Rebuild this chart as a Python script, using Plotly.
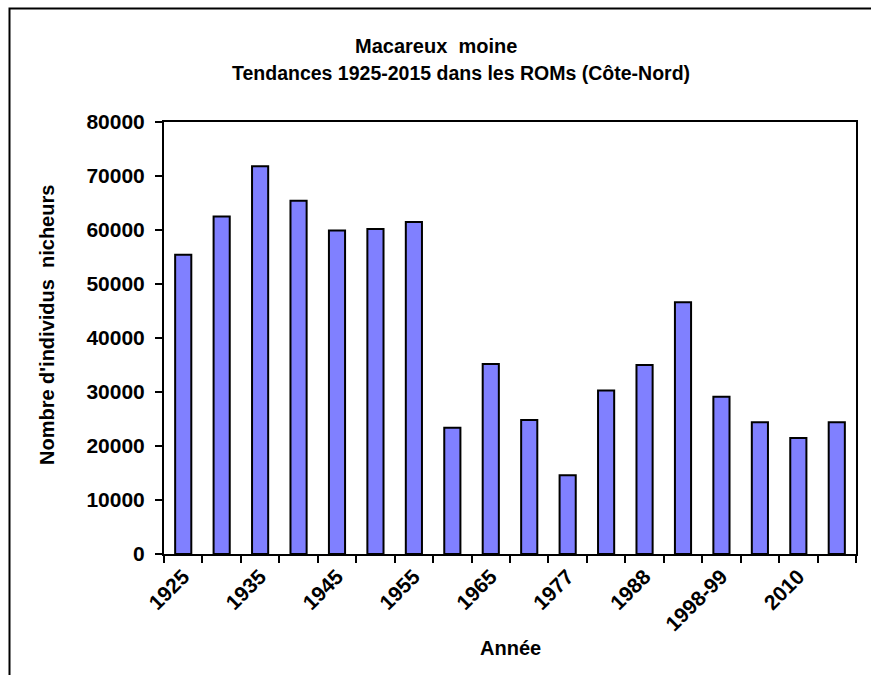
import plotly.graph_objects as go

# Survey years (only every other one is labelled on the axis)
years = ["1925", "1930", "1935", "1940", "1945", "1950", "1955", "1960", "1965",
         "1972", "1977", "1982", "1988", "1993", "1998-99", "2005", "2010", "2015"]
# Breeding individuals counted in the ROMs (Côte-Nord)
counts = [55400, 62500, 71800, 65400, 59900, 60200, 61500, 23400, 35200,
          24800, 14600, 30300, 35000, 46600, 29100, 24400, 21500, 24400]
# Axis labels shown under the bars
shown_years = ["1925", "1935", "1945", "1955", "1965", "1977", "1988", "1998-99", "2010"]
y_ticks = [0, 10000, 20000, 30000, 40000, 50000, 60000, 70000, 80000]

FONT = "Liberation Sans, Arial, sans-serif"
W, H = 871, 675
L, R, T, B = 164, 15, 122, 121
pw, ph = W - L - R, H - T - B
NB = "\u00a0"  # wide word spacing used in the titles


def px_x(x):
    return (x - L) / pw


def px_y(y):
    return (H - B - y) / ph


fig = go.Figure(
    go.Bar(
        x=years,
        y=counts,
        width=0.42,
        marker=dict(color="#8080FF", line=dict(color="black", width=2)),
        hoverinfo="x+y",
    )
)

fig.update_layout(
    width=W,
    height=H,
    margin=dict(l=L, r=R, t=T, b=B),
    paper_bgcolor="white",
    plot_bgcolor="white",
    showlegend=False,
    font=dict(family=FONT, color="black"),
)

fig.update_xaxes(
    type="category",
    categoryorder="array",
    categoryarray=years,
    tickson="boundaries",
    ticks="outside",
    ticklen=7,
    tickwidth=2,
    tickcolor="black",
    tickvals=years,
    ticktext=[y if y in shown_years else "" for y in years],
    tickangle=-45,
    tickfont=dict(family=FONT, size=21, weight="bold", color="black"),
    showline=True,
    linecolor="black",
    linewidth=2,
    mirror=True,
    showgrid=False,
    zeroline=False,
)

fig.update_yaxes(
    range=[0, 80000],
    tickvals=y_ticks,
    tickformat="d",
    ticks="outside",
    ticklen=7,
    tickwidth=2,
    tickcolor="black",
    tickfont=dict(family=FONT, size=21, weight="bold", color="black"),
    ticklabelstandoff=6,
    showline=True,
    linecolor="black",
    linewidth=2,
    mirror=True,
    showgrid=False,
    zeroline=False,
)

# Title (two lines), axis titles
annos = [
    dict(text="Macareux" + NB + " moine", x=px_x(436), y=px_y(46), size=20),
    dict(text="Tendances 1925-2015 dans les ROMs (Côte-Nord)", x=px_x(461), y=px_y(73), size=19.5),
    dict(text="Année", x=px_x(510), y=px_y(648), size=20),
    dict(text="Nombre d'individus" + NB + " nicheurs", x=px_x(47), y=px_y(325),
         size=20, textangle=-90),
]
for a in annos:
    size = a.pop("size")
    fig.add_annotation(
        xref="paper", yref="paper", showarrow=False,
        xanchor="center", yanchor="middle",
        font=dict(family=FONT, size=size, weight="bold", color="black"),
        **a,
    )

# Outer chart frame
fig.add_shape(
    type="rect", xref="paper", yref="paper",
    x0=px_x(9.5), x1=px_x(880), y0=px_y(680), y1=px_y(8.5),
    line=dict(color="black", width=2), fillcolor="rgba(0,0,0,0)", layer="below",
)

fig.write_html("out.html")
